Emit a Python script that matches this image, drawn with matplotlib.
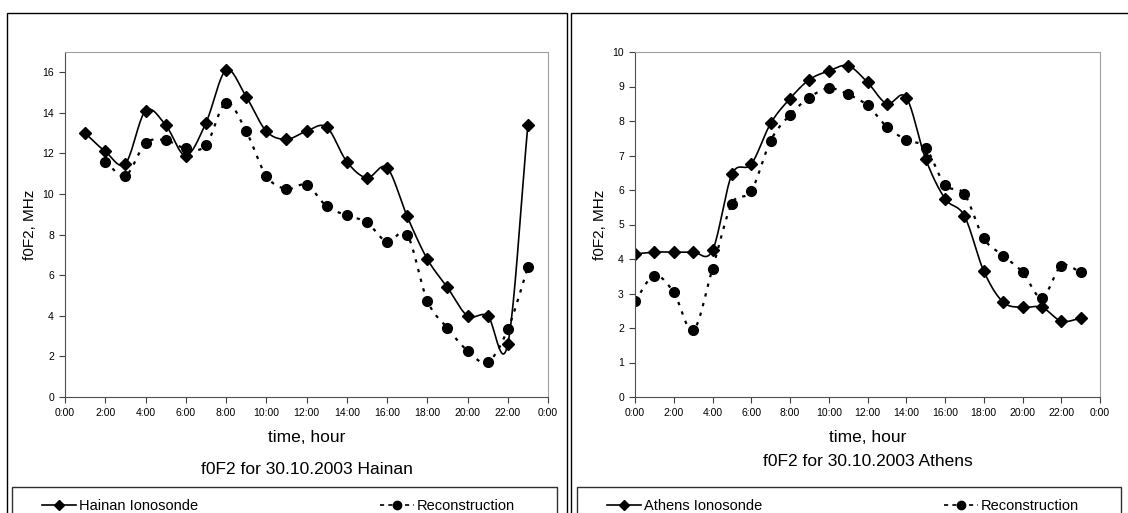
import numpy as np
import matplotlib.pyplot as plt
from matplotlib.patches import Rectangle

plt.rcParams["font.family"] = ["Liberation Sans", "DejaVu Sans"]

# Hainan, 30.10.2003 (hours)
hainan_hours = list(range(1, 24))
hainan_iono = [13.0, 12.1, 11.5, 14.1, 13.4, 11.9, 13.5, 16.1, 14.8, 13.1, 12.7, 13.1,
               13.3, 11.6, 10.8, 11.3, 8.9, 6.8, 5.4, 4.0, 4.0, 2.6, 13.4]
hainan_rec_hours = list(range(2, 24))
hainan_rec = [11.6, 10.9, 12.5, 12.65, 12.25, 12.4, 14.5, 13.1, 10.9, 10.25, 10.45,
              9.4, 8.95, 8.6, 7.65, 8.0, 4.75, 3.4, 2.28, 1.72, 3.33, 6.4]

# Athens, 30.10.2003 (hours)
athens_hours = list(range(0, 24))
athens_iono = [4.15, 4.2, 4.2, 4.2, 4.25, 6.45, 6.75, 7.93, 8.65, 9.2, 9.45, 9.6,
               9.12, 8.5, 8.68, 6.9, 5.75, 5.25, 3.65, 2.75, 2.6, 2.6, 2.2, 2.28]
athens_rec = [2.78, 3.52, 3.03, 1.93, 3.72, 5.6, 5.97, 7.43, 8.18, 8.68, 8.95, 8.77,
              8.45, 7.83, 7.45, 7.22, 6.15, 5.88, 4.6, 4.1, 3.62, 2.88, 3.8, 3.62]

tick_hours = list(range(0, 25, 2))
tick_labels = [f"{h % 24}:00" for h in tick_hours]


def smooth(x, y, n=20):
    # Catmull-Rom curve through the points, like Excel's smoothed line
    x = np.asarray(x, float)
    y = np.asarray(y, float)
    px = np.concatenate([[2 * x[0] - x[1]], x, [2 * x[-1] - x[-2]]])
    py = np.concatenate([[2 * y[0] - y[1]], y, [2 * y[-1] - y[-2]]])
    t = np.linspace(0, 1, n)[:, None]
    xs, ys = [], []
    for i in range(1, len(px) - 2):
        for p, out in ((px, xs), (py, ys)):
            p0, p1, p2, p3 = p[i - 1], p[i], p[i + 1], p[i + 2]
            seg = 0.5 * (2 * p1 + (-p0 + p2) * t + (2 * p0 - 5 * p1 + 4 * p2 - p3) * t ** 2
                         + (-p0 + 3 * p1 - 3 * p2 + p3) * t ** 3)
            out.append(seg.ravel())
    return np.concatenate(xs), np.concatenate(ys)


W, H = 1128, 513
fig = plt.figure(figsize=(W / 100, H / 100), dpi=100)

# panel frames
fig.patches.append(Rectangle((7 / W, -0.1), 560 / W, 1.1 - 13 / H, transform=fig.transFigure,
                             fill=False, edgecolor="black", lw=1.0))
fig.patches.append(Rectangle((571 / W, -0.1), 600 / W, 1.1 - 13 / H, transform=fig.transFigure,
                             fill=False, edgecolor="black", lw=1.0))

panels = [
    dict(left=65, right=548, ylim=17, yticks=range(0, 17, 2),
         iono=(hainan_hours, hainan_iono), rec=(hainan_rec_hours, hainan_rec),
         name="Hainan", xlab_y=438, title_y=470, leg=(12, 557)),
    dict(left=635, right=1100, ylim=10, yticks=range(0, 11, 1),
         iono=(athens_hours, athens_iono), rec=(athens_hours, athens_rec),
         name="Athens", xlab_y=437, title_y=461, leg=(577, 1121)),
]

for p in panels:
    top, bottom = 52, 397
    ax = fig.add_axes([p["left"] / W, 1 - bottom / H, (p["right"] - p["left"]) / W,
                       (bottom - top) / H])
    ax.set_xlim(0, 24)
    ax.set_ylim(0, p["ylim"])
    ax.set_xticks(tick_hours)
    ax.set_xticklabels(tick_labels)
    ax.set_yticks(list(p["yticks"]))
    ax.tick_params(direction="out", length=4, width=0.8, labelsize=7.5, color="#404040", pad=4)
    for s in ("top", "right"):
        ax.spines[s].set_color("#a0a0a0")
    for s in ("left", "bottom"):
        ax.spines[s].set_color("#505050")

    hx, hy = p["iono"]
    sx, sy = smooth(hx, hy)
    ax.plot(sx, sy, color="black", lw=1.2)
    ax.plot(hx, hy, ls="none", marker="D", ms=6, color="black")
    rx, ry = p["rec"]
    sx, sy = smooth(rx, ry)
    ax.plot(sx, sy, color="black", lw=1.6, ls=(0, (1.5, 3)))
    ax.plot(rx, ry, ls="none", marker="o", ms=7, color="black")

    ax.set_ylabel("f0F2, MHz", fontsize=11, labelpad=4)

    cx = (p["left"] + p["right"]) / 2 / W
    fig.text(cx, 1 - p["xlab_y"] / H, "time, hour", ha="center", va="center", fontsize=12.5)
    fig.text(cx, 1 - p["title_y"] / H, f"f0F2 for 30.10.2003 {p['name']}",
             ha="center", va="center", fontsize=12.5)

    # legend box (bottom edge runs off the picture)
    lx0, lx1 = p["leg"]
    fig.patches.append(Rectangle((lx0 / W, -0.1), (lx1 - lx0) / W, 0.1 + 1 - 487 / H,
                                 transform=fig.transFigure, fill=False,
                                 edgecolor="#303030", lw=1.0))
    h1, = ax.plot([], [], color="black", lw=1.2, marker="D", ms=5)
    h2, = ax.plot([], [], color="black", lw=1.2, ls=(0, (2.5, 2.5)), marker="o", ms=6)
    fig.legend([h1, h2], [f"{p['name']} Ionosonde", "Reconstruction"], ncol=2,
               loc="upper left", bbox_to_anchor=((lx0 + 20) / W, 1 - 489 / H),
               fontsize=10.5, frameon=False, handlelength=2.3, borderpad=0.2,
               handletextpad=0.2, columnspacing=12.5)

fig.savefig("out.png", dpi=100)
